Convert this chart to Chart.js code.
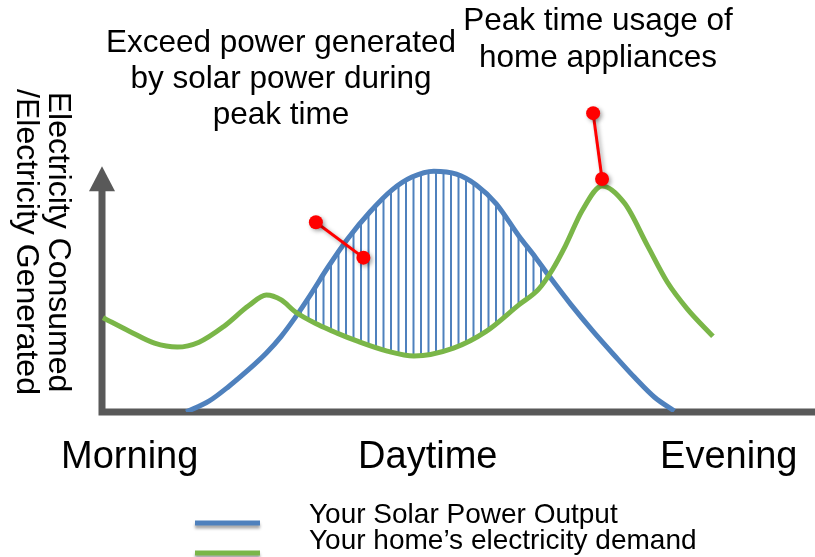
<!DOCTYPE html>
<html>
<head>
<meta charset="utf-8">
<script src="https://cdn.jsdelivr.net/npm/chart.js@4.4.1/dist/chart.umd.min.js"></script>
<style>
  html, body { margin: 0; padding: 0; background: #fff; }
  #wrap { width: 815px; height: 557px; position: relative; }
</style>
</head>
<body>
<div id="wrap"><canvas id="chart" width="815" height="557"></canvas></div>
<script>
// time along the day (arbitrary units, 0 = y axis) and level (0 = x axis)
const solarTime   = [85, 108, 128, 148, 166, 181, 195, 211, 228, 248, 271, 293, 313, 335, 358, 378, 398, 421, 438, 451, 473, 496, 518, 538, 558, 578];
const solarOutput = [0, 11, 26, 43, 60, 77, 96, 120, 147, 176, 204, 226, 239, 245, 242, 231, 212, 179, 157, 139, 110, 82, 57, 35, 15, 1];

const demandTime  = [1, 28, 53, 76, 98, 123, 148, 166, 181, 195, 218, 238, 258, 288, 315, 355, 388, 421, 441, 455, 468, 485, 505, 528, 551, 571, 591, 617];
const homeDemand  = [96, 82, 70, 66, 71, 87, 108, 119, 114, 102, 89, 80, 72, 62, 57, 65, 82, 109, 125, 145, 169, 205, 230, 212, 169, 132, 105, 77];

// callout pins (tail end, then point on the curve)
const excessPin = [[216, 193], [264, 157]];
const peakPin   = [[496, 304], [505, 237]];

const tickLabels    = ['Morning', 'Daytime', 'Evening'];
const tickPositions = [28, 329, 633];

const excessNote = ['Exceed power generated', 'by solar power during', 'peak time'];
const peakNote   = ['Peak time usage of', 'home appliances'];
const yTitle     = ['Electricity Consumed', '/Electricity Generated'];

const BLUE = '#4f81bd';
const GREEN = '#7ab648';
const RED = '#ff0000';
const AXIS = '#595959';
const FONT = '"Liberation Sans", Arial, sans-serif';

const toPoints = (xs, ys) => xs.map((x, i) => ({ x: x, y: ys[i] }));

// vertical stripe pattern for the surplus area
function makeHatch() {
    const c = document.createElement('canvas');
    c.width = 15;
    c.height = 10;
    const g = c.getContext('2d');
    g.fillStyle = BLUE;
    g.fillRect(0, 0, 2, 10);
    g.fillRect(7.5, 0, 2, 10);
    return g.createPattern(c, 'repeat');
}

const pinShadow = {
    id: 'pinShadow',
    beforeDatasetDraw(chart, args) {
        if (!chart.data.datasets[args.index].pin) return;
        const ctx = chart.ctx;
        ctx.save();
        ctx.shadowColor = 'rgba(0,0,0,0.35)';
        ctx.shadowBlur = 4;
        ctx.shadowOffsetX = 2;
        ctx.shadowOffsetY = 2;
    },
    afterDatasetDraw(chart, args) {
        if (!chart.data.datasets[args.index].pin) return;
        chart.ctx.restore();
    }
};

const decorations = {
    id: 'decorations',
    beforeDatasetsDraw(chart) {
        const { ctx, scales: { x, y } } = chart;
        const x0 = x.getPixelForValue(0);
        const y0 = y.getPixelForValue(0);
        const top = y.getPixelForValue(250);
        ctx.save();
        ctx.strokeStyle = AXIS;
        ctx.fillStyle = AXIS;
        ctx.lineWidth = 7;
        ctx.beginPath();
        ctx.moveTo(x0, y0 + 3.5);
        ctx.lineTo(x0, top + 22);
        ctx.moveTo(x0 - 3.5, y0);
        ctx.lineTo(chart.width, y0);
        ctx.stroke();
        ctx.beginPath();
        ctx.moveTo(x0, top);
        ctx.lineTo(x0 - 13, top + 25);
        ctx.lineTo(x0 + 13, top + 25);
        ctx.closePath();
        ctx.fill();
        ctx.restore();
    },
    afterDraw(chart) {
        const { ctx, scales: { x } } = chart;
        ctx.save();
        ctx.fillStyle = '#000';
        ctx.textAlign = 'center';
        ctx.textBaseline = 'middle';

        ctx.font = '38px ' + FONT;
        tickLabels.forEach((t, i) => ctx.fillText(t, x.getPixelForValue(tickPositions[i]), 458));

        ctx.font = '31.5px ' + FONT;
        excessNote.forEach((t, i) => ctx.fillText(t, 281, 43 + i * 36));
        peakNote.forEach((t, i) => ctx.fillText(t, 598, 21 + i * 37));

        // axis title, reading top to bottom
        ctx.save();
        ctx.font = '32px ' + FONT;
        ctx.translate(58, 242);
        ctx.rotate(Math.PI / 2);
        ctx.fillText(yTitle[0], 0, 0);
        ctx.fillText(yTitle[1], 0, 32);
        ctx.restore();

        // legend
        ctx.textAlign = 'left';
        ctx.textBaseline = 'alphabetic';
        ctx.font = '28px ' + FONT;
        const rows = chart.data.datasets.filter(d => !d.pin);
        rows.forEach((d, i) => {
            const ly = 523 + i * 30;
            ctx.save();
            ctx.shadowColor = 'rgba(0,0,0,0.35)';
            ctx.shadowBlur = 3;
            ctx.shadowOffsetY = 3;
            ctx.strokeStyle = d.borderColor;
            ctx.lineWidth = 5;
            ctx.beginPath();
            ctx.moveTo(195, ly);
            ctx.lineTo(260, ly);
            ctx.stroke();
            ctx.restore();
            ctx.fillText(d.label, 309, 523 + i * 25.5);
        });
        ctx.restore();
    }
};

const pinStyle = {
    type: 'line',
    pin: true,
    showLine: true,
    borderColor: RED,
    backgroundColor: RED,
    borderWidth: 3,
    pointRadius: 7,
    pointHoverRadius: 7,
    pointBackgroundColor: RED,
    pointBorderWidth: 0,
    fill: false,
    tension: 0,
    clip: false
};

new Chart(document.getElementById('chart'), {
    type: 'line',
    data: {
        datasets: [
            {
                label: 'Your Solar Power Output',
                data: toPoints(solarTime, solarOutput),
                borderColor: BLUE,
                borderWidth: 5,
                pointRadius: 0,
                cubicInterpolationMode: 'monotone',
                fill: { target: 1, above: makeHatch(), below: 'rgba(0,0,0,0)' },
                order: 2
            },
            {
                label: 'Your home\u2019s electricity demand',
                data: toPoints(demandTime, homeDemand),
                borderColor: GREEN,
                borderWidth: 5,
                pointRadius: 0,
                cubicInterpolationMode: 'monotone',
                fill: false,
                order: 1
            },
            Object.assign({ data: excessPin.map(p => ({ x: p[0], y: p[1] })), order: 0 }, pinStyle),
            Object.assign({ data: peakPin.map(p => ({ x: p[0], y: p[1] })), order: 0 }, pinStyle)
        ]
    },
    options: {
        responsive: false,
        animation: false,
        events: [],
        layout: { padding: { left: 102, right: 0, top: 0, bottom: 145 } },
        scales: {
            x: { type: 'linear', min: 0, max: 713, display: false },
            y: { type: 'linear', min: 0, max: 412, display: false }
        },
        plugins: {
            legend: { display: false },
            tooltip: { enabled: false }
        }
    },
    plugins: [pinShadow, decorations]
});
</script>
</body>
</html>
